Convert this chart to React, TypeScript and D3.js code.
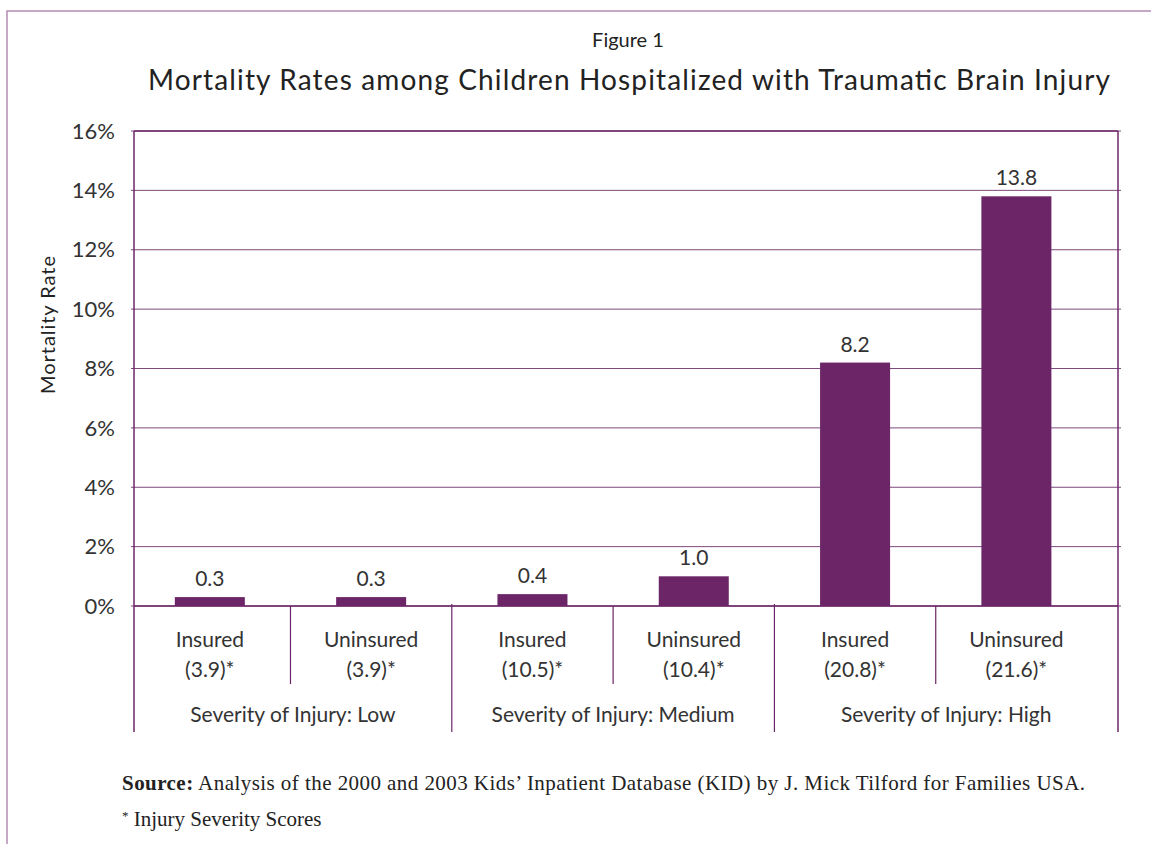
import * as d3 from 'd3';

const categories = ['Insured', 'Uninsured', 'Insured', 'Uninsured', 'Insured', 'Uninsured'];
const scores = ['(3.9)*', '(3.9)*', '(10.5)*', '(10.4)*', '(20.8)*', '(21.6)*'];
const rates = [0.3, 0.3, 0.4, 1.0, 8.2, 13.8];
const groups = ['Severity of Injury: Low', 'Severity of Injury: Medium', 'Severity of Injury: High'];
const yTicks = [0, 2, 4, 6, 8, 10, 12, 14, 16];

const width = 1151;
const height = 844;
const left = 134;
const right = 1118;
const top = 131;
const bottom = 606;

const purple = '#6c2668';
const grid = '#7f4a7d';
const font = 'Lato, "Noto Sans", sans-serif';
const serif = '"Liberation Serif", serif';

export default function App() {
  const ids = categories.map((_, i) => String(i));

  // bars are not centred in their cells in the original, so tune the band
  const x = d3.scaleBand()
    .domain(ids)
    .range([left, right])
    .paddingInner(0.566)
    .paddingOuter(0.333)
    .align(0.38);

  const y = d3.scaleLinear().domain([0, 16]).range([bottom, top]);

  const bw = x.bandwidth();
  const gap = x.step() - bw;
  const cellEdge = (i) => x(ids[i]) + bw + gap / 2;

  // group spans: left frame, separators after bars 1 and 3, right frame
  const groupEdges = [left, cellEdge(1), cellEdge(3), right];

  return (
    <svg width={width} height={height} style={{ position: 'absolute', left: 0, top: 0 }}>
      <rect x={0} y={0} width={width} height={height} fill="#fff" />
      <rect x={7} y={11} width={1200} height={900} fill="none" stroke="#b48ab4" strokeWidth={1.5} />

      <text x={628} y={47} textAnchor="middle" fontFamily={font} fontSize={20} fill="#222">Figure 1</text>
      <text x={629} y={90} textAnchor="middle" fontFamily={font} fontSize={28} fill="#222"
        textLength={962} lengthAdjust="spacing">
        Mortality Rates among Children Hospitalized with Traumatic Brain Injury
      </text>

      {/* gridlines */}
      {yTicks.map((t) => (
        <line key={t} x1={left - 3} x2={right + 3} y1={y(t)} y2={y(t)} stroke={grid} strokeWidth={1} />
      ))}
      {yTicks.map((t) => (
        <text key={'l' + t} x={115} y={y(t)} dy="0.35em" textAnchor="end" fontFamily={font} fontSize={22} fill="#333">
          {t}%
        </text>
      ))}

      <text transform="translate(55,325) rotate(-90)" textAnchor="middle" fontFamily={font} fontSize={20} fill="#222"
        textLength={138} lengthAdjust="spacing">
        Mortality Rate
      </text>

      {/* bars */}
      {rates.map((v, i) => (
        <rect key={'b' + i} x={x(ids[i])} y={y(v)} width={bw} height={y(0) - y(v)} fill={purple} />
      ))}
      {rates.map((v, i) => (
        <text key={'v' + i} x={x(ids[i]) + bw / 2} y={y(v) - 11} textAnchor="middle" fontFamily={font} fontSize={21} fill="#333">
          {v.toFixed(1)}
        </text>
      ))}

      {/* frame */}
      <line x1={left} x2={right} y1={top} y2={top} stroke={purple} strokeWidth={1.5} />
      <line x1={left} x2={right} y1={bottom} y2={bottom} stroke={purple} strokeWidth={1.5} />
      <line x1={left} x2={left} y1={top} y2={732} stroke={purple} strokeWidth={1.5} />
      <line x1={right} x2={right} y1={top} y2={732} stroke={purple} strokeWidth={1.5} />

      {/* separators */}
      {[0, 2, 4].map((i) => (
        <line key={'s' + i} x1={cellEdge(i)} x2={cellEdge(i)} y1={bottom} y2={684} stroke={purple} strokeWidth={1.2} />
      ))}
      {[1, 3].map((i) => (
        <line key={'g' + i} x1={cellEdge(i)} x2={cellEdge(i)} y1={bottom - 2} y2={732} stroke={purple} strokeWidth={1.2} />
      ))}

      {/* category labels */}
      {categories.map((c, i) => (
        <text key={'c' + i} textAnchor="middle" fontFamily={font} fontSize={21} fill="#333">
          <tspan x={x(ids[i]) + bw / 2} y={647}>{c}</tspan>
          <tspan x={x(ids[i]) + bw / 2} y={677}>{scores[i]}</tspan>
        </text>
      ))}
      {groups.map((g, i) => (
        <text key={'gl' + i} x={(groupEdges[i] + groupEdges[i + 1]) / 2} y={722} textAnchor="middle" fontFamily={font} fontSize={21} fill="#333">
          {g}
        </text>
      ))}

      <text x={122} y={790} fontFamily={serif} fontSize={21} fill="#222" textLength={963} lengthAdjust="spacing">
        <tspan fontWeight="bold">Source:</tspan> Analysis of the 2000 and 2003 Kids’ Inpatient Database (KID) by J. Mick Tilford for Families USA.
      </text>
      <text x={122} y={826} fontFamily={serif} fontSize={21} fill="#222">
        <tspan fontSize={13} dy={-6}>*</tspan><tspan dy={6}> Injury Severity Scores</tspan>
      </text>
    </svg>
  );
}
